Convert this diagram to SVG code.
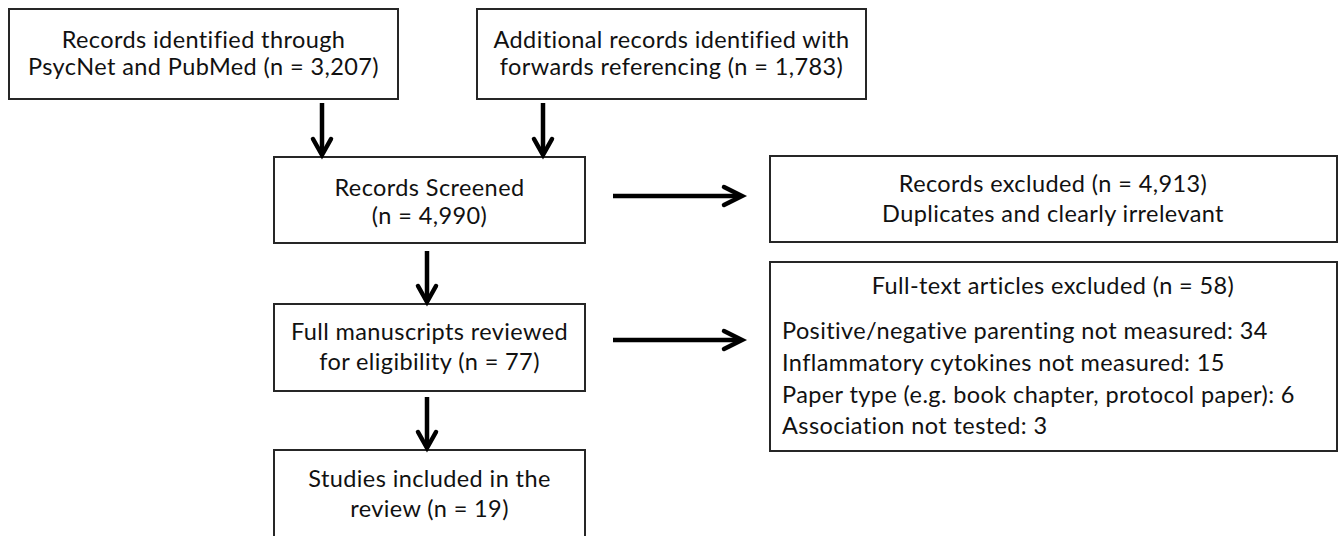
<svg xmlns="http://www.w3.org/2000/svg" width="1344" height="536" viewBox="0 0 1344 536">
<defs>
<style>
.box{fill:#fff;stroke:#262626;stroke-width:2}
.t{font-family:Lato,"Open Sans","Liberation Sans",sans-serif;font-size:23.5px;letter-spacing:0.4px;fill:#111}
.c{text-anchor:middle}
.ln{stroke:#000;stroke-width:4.5;fill:none}
.hd{stroke:#000;stroke-width:4.5;fill:none;stroke-linecap:round;stroke-linejoin:miter}
</style>
</defs>
<rect width="1344" height="536" fill="#fff"/>
<g id="n1"><rect class="box" x="9" y="9" width="389" height="90"/>
<text class="t c" x="203.5" y="48">Records identified through</text>
<text class="t c" x="203.5" y="75">PsycNet and PubMed (n = 3,207)</text></g>
<g id="n2"><rect class="box" x="477" y="9" width="389" height="90"/>
<text class="t c" x="671.5" y="48">Additional records identified with</text>
<text class="t c" x="671.5" y="75">forwards referencing (n = 1,783)</text></g>
<g id="n3"><rect class="box" x="274" y="157" width="311" height="86"/>
<text class="t c" x="429.5" y="196">Records Screened</text>
<text class="t c" x="429.5" y="224">(n = 4,990)</text></g>
<g id="n4"><rect class="box" x="770" y="156" width="567" height="86"/>
<text class="t c" x="1053" y="192">Records excluded (n = 4,913)</text>
<text class="t c" x="1053" y="222">Duplicates and clearly irrelevant</text></g>
<g id="n5"><rect class="box" x="274" y="304" width="311" height="87"/>
<text class="t c" x="429.5" y="340">Full manuscripts reviewed</text>
<text class="t c" x="429.5" y="370">for eligibility (n = 77)</text></g>
<g id="n6"><rect class="box" x="770" y="262" width="567" height="189"/>
<text class="t c" x="1053" y="294">Full-text articles excluded (n = 58)</text>
<text class="t" x="782" y="339">Positive/negative parenting not measured: 34</text>
<text class="t" x="782" y="371">Inflammatory cytokines not measured: 15</text>
<text class="t" x="782" y="403">Paper type (e.g. book chapter, protocol paper): 6</text>
<text class="t" x="782" y="434">Association not tested: 3</text></g>
<g id="n7"><rect class="box" x="274" y="450" width="311" height="92"/>
<text class="t c" x="429.5" y="487">Studies included in the</text>
<text class="t c" x="429.5" y="517">review (n = 19)</text></g>
<g id="connectors">
<path class="ln" d="M322 103V154"/><path class="hd" d="M313 139L322 155L331 139"/>
<path class="ln" d="M543 103V154"/><path class="hd" d="M534 139L543 155L552 139"/>
<path class="ln" d="M613 196H741"/><path class="hd" d="M724 187L742 196L724 205"/>
<path class="ln" d="M613 340H741"/><path class="hd" d="M724 331L742 340L724 349"/>
<path class="ln" d="M427 251V301"/><path class="hd" d="M418 286L427 302L436 286"/>
<path class="ln" d="M427 397V447"/><path class="hd" d="M418 432L427 448L436 432"/>
</g>
</svg>
